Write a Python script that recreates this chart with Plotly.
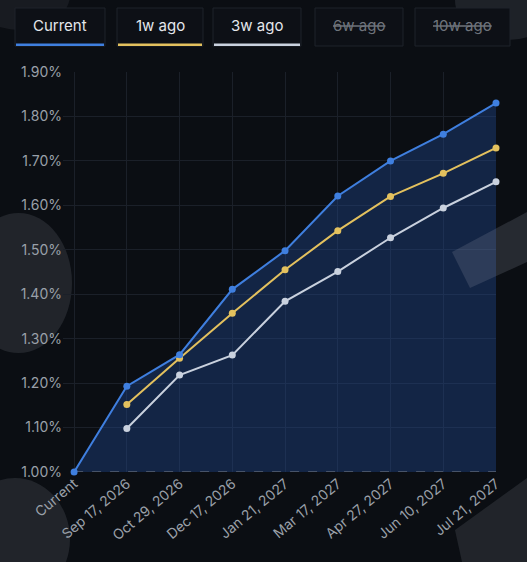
import plotly.graph_objects as go

categories = ["Current", "Sep 17, 2026", "Oct 29, 2026", "Dec 17, 2026", "Jan 21, 2027",
              "Mar 17, 2027", "Apr 27, 2027", "Jun 10, 2027", "Jul 21, 2027"]
current = [1.00, 1.193, 1.264, 1.411, 1.498, 1.621, 1.700, 1.760, 1.830]
week1 = [None, 1.152, 1.256, 1.357, 1.455, 1.543, 1.620, 1.672, 1.729]
week3 = [None, 1.098, 1.218, 1.263, 1.384, 1.451, 1.527, 1.594, 1.653]
baseline = [1.00] * len(categories)
y_ticks = [1.0, 1.1, 1.2, 1.3, 1.4, 1.5, 1.6, 1.7, 1.8, 1.9]
y_tick_labels = ["1.00%", "1.10%", "1.20%", "1.30%", "1.40%", "1.50%", "1.60%",
                 "1.70%", "1.80%", "1.90%"]
legend_items = ["Current", "1w ago", "3w ago", "6w ago", "10w ago"]
legend_active = [True, True, True, False, False]

BG = "#0b0e13"
BLUE = "#3f7fdf"
YELLOW = "#e3c15e"
WHITE = "#c9d1de"
legend_colors = [BLUE, YELLOW, WHITE, None, None]

W, H = 527, 562
L, R, T, B = 63, 496, 72, 472

def px_x(px):
    return (px - L) / (R - L)

def px_y(py):
    return (B - py) / (B - T)

def path_px(points):
    parts = []
    for i, (x, y) in enumerate(points):
        parts.append(("M" if i == 0 else "L") + f" {px_x(x):.4f} {px_y(y):.4f}")
    return " ".join(parts) + " Z"

fig = go.Figure()
fig.add_trace(go.Scatter(x=categories, y=baseline, mode="lines",
                         line=dict(color="#7c828c", width=1.2, dash="dash"),
                         hoverinfo="skip", showlegend=False, cliponaxis=False))
fig.add_trace(go.Scatter(x=categories, y=current, mode="lines", fill="tonexty",
                         fillcolor="rgba(32,72,145,0.40)", line=dict(width=0),
                         hoverinfo="skip", showlegend=False))
fig.add_trace(go.Scatter(x=categories, y=week3, mode="lines+markers", name="3w ago",
                         line=dict(color=WHITE, width=2), marker=dict(size=7, color=WHITE),
                         showlegend=False, cliponaxis=False))
fig.add_trace(go.Scatter(x=categories, y=week1, mode="lines+markers", name="1w ago",
                         line=dict(color=YELLOW, width=2), marker=dict(size=7, color=YELLOW),
                         showlegend=False, cliponaxis=False))
fig.add_trace(go.Scatter(x=categories, y=current, mode="lines+markers", name="Current",
                         line=dict(color=BLUE, width=2), marker=dict(size=7, color=BLUE),
                         showlegend=False, cliponaxis=False))

shapes = []
# faint background watermark blobs
wm = "rgba(60,64,72,0.45)"
shapes.append(dict(type="circle", xref="paper", yref="paper", layer="below",
                   x0=px_x(-35), x1=px_x(72), y0=px_y(353), y1=px_y(213),
                   fillcolor=wm, line=dict(width=0)))
shapes.append(dict(type="circle", xref="paper", yref="paper", layer="below",
                   x0=px_x(-40), x1=px_x(70), y0=px_y(600), y1=px_y(478),
                   fillcolor=wm, line=dict(width=0)))
shapes.append(dict(type="circle", xref="paper", yref="paper", layer="below",
                   x0=px_x(455), x1=px_x(560), y0=px_y(40), y1=px_y(-40),
                   fillcolor="rgba(60,64,72,0.40)", line=dict(width=0)))
shapes.append(dict(type="circle", xref="paper", yref="paper", layer="below",
                   x0=px_x(-30), x1=px_x(70), y0=px_y(30), y1=px_y(-40),
                   fillcolor="rgba(45,48,54,0.40)", line=dict(width=0)))
shapes.append(dict(type="path", xref="paper", yref="paper", layer="above",
                   path=path_px([(452, 252), (527, 212), (527, 262), (470, 288)]),
                   fillcolor="rgba(150,156,168,0.20)", line=dict(width=0)))
shapes.append(dict(type="path", xref="paper", yref="paper", layer="below",
                   path=path_px([(455, 530), (527, 478), (527, 562), (462, 562)]),
                   fillcolor=wm, line=dict(width=0)))

# legend buttons
boxes = [(15, 105), (117, 203), (213, 301), (315, 403), (415, 510)]
annotations = []
for (x0, x1), label, active, col in zip(boxes, legend_items, legend_active, legend_colors):
    shapes.append(dict(type="rect", xref="paper", yref="paper",
                       x0=px_x(x0), x1=px_x(x1), y0=px_y(46), y1=px_y(8),
                       fillcolor="#0d1016", line=dict(color="#1e232b", width=1)))
    if active:
        shapes.append(dict(type="rect", xref="paper", yref="paper",
                           x0=px_x(x0 + 1), x1=px_x(x1 - 1), y0=px_y(46), y1=px_y(43.5),
                           fillcolor=col, line=dict(width=0)))
    text = label if active else "<s>" + label + "</s>"
    annotations.append(dict(xref="paper", yref="paper", x=px_x((x0 + x1) / 2), y=px_y(25),
                            text=text, showarrow=False, xanchor="center", yanchor="middle",
                            font=dict(size=15, color="#e4e7ec" if active else "#6f747c",
                                      family="Inter")))

fig.update_layout(
    width=W, height=H,
    margin=dict(l=L, r=W - R, t=T, b=H - B),
    paper_bgcolor=BG, plot_bgcolor=BG,
    font=dict(family="Inter", color="#9aa0a9", size=13),
    shapes=shapes, annotations=annotations,
    xaxis=dict(type="category", range=[-0.21, 8], showgrid=True, gridcolor="#1b2029",
               gridwidth=1, tickangle=-40, tickfont=dict(size=14, color="#9aa0a9"),
               zeroline=False, showline=False, ticks="", fixedrange=True),
    yaxis=dict(range=[1.0, 1.9], tickvals=y_ticks, ticktext=y_tick_labels,
               showgrid=True, gridcolor="#1b2029", gridwidth=1, zeroline=False,
               showline=False, ticks="", tickfont=dict(size=14, color="#9aa0a9")),
)

fig.write_html("out.html", config={"displayModeBar": False},
               post_script="document.body.style.margin='0';document.body.style.background='#0b0e13';")
